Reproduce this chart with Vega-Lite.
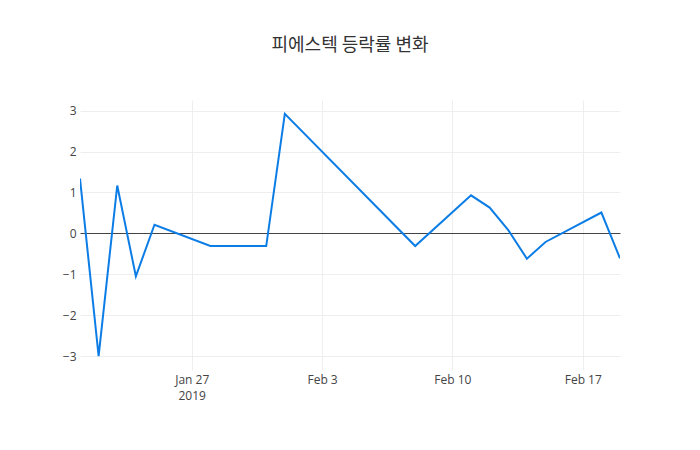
{
  "$schema": "https://vega.github.io/schema/vega-lite/v6.json",
  "description": "Daily change rate (%) of PST stock, Jan 21 - Feb 19 2019.",
  "autosize": {"type": "none"},
  "width": 540,
  "height": 270,
  "padding": {"left": 80, "right": 80, "top": 100, "bottom": 80},
  "background": "white",
  "title": {
    "text": "피에스텍 등락률 변화",
    "font": "Noto Sans CJK KR",
    "fontSize": 18,
    "fontWeight": "normal",
    "color": "#333",
    "anchor": "middle",
    "offset": 45
  },
  "data": {
    "values": [
      {"date": "2019-01-21", "rate": 1.34},
      {"date": "2019-01-22", "rate": -3.0},
      {"date": "2019-01-23", "rate": 1.17},
      {"date": "2019-01-24", "rate": -1.05},
      {"date": "2019-01-25", "rate": 0.21},
      {"date": "2019-01-28", "rate": -0.31},
      {"date": "2019-01-29", "rate": -0.31},
      {"date": "2019-01-30", "rate": -0.31},
      {"date": "2019-01-31", "rate": -0.31},
      {"date": "2019-02-01", "rate": 2.92},
      {"date": "2019-02-08", "rate": -0.31},
      {"date": "2019-02-11", "rate": 0.93},
      {"date": "2019-02-12", "rate": 0.63},
      {"date": "2019-02-13", "rate": 0.08},
      {"date": "2019-02-14", "rate": -0.62},
      {"date": "2019-02-15", "rate": -0.21},
      {"date": "2019-02-18", "rate": 0.51},
      {"date": "2019-02-19", "rate": -0.61}
    ],
    "format": {"parse": {"date": "date:'%Y-%m-%d'"}}
  },
  "mark": {"type": "line", "color": "#0d7de6", "strokeWidth": 2, "clip": true},
  "encoding": {
    "x": {
      "field": "date",
      "type": "temporal",
      "title": null,
      "scale": {
        "domain": [
          {"year": 2019, "month": 1, "date": 21},
          {"year": 2019, "month": 2, "date": 19}
        ],
        "nice": false
      },
      "axis": {
        "values": [
          {"year": 2019, "month": 1, "date": 27},
          {"year": 2019, "month": 2, "date": 3},
          {"year": 2019, "month": 2, "date": 10},
          {"year": 2019, "month": 2, "date": 17}
        ],
        "labelExpr": "timeFormat(datum.value, '%b %-d') === 'Jan 27' ? ['Jan 27', '2019'] : timeFormat(datum.value, '%b %-d')",
        "labelLineHeight": 16,
        "labelPadding": 4,
        "ticks": false,
        "domain": false,
        "grid": true
      }
    },
    "y": {
      "field": "rate",
      "type": "quantitative",
      "title": null,
      "scale": {"domain": [-3.34, 3.26], "nice": false, "zero": false},
      "axis": {
        "values": [-3, -2, -1, 0, 1, 2, 3],
        "ticks": false,
        "domain": false,
        "grid": true,
        "labelPadding": 4,
        "gridColor": {"condition": {"test": "datum.value === 0", "value": "#444"}, "value": "#eeeeee"},
        "gridWidth": 1
      }
    }
  },
  "config": {
    "view": {"stroke": null},
    "axis": {
      "labelFont": "Open Sans",
      "labelFontSize": 12,
      "labelColor": "#444",
      "gridColor": "#eeeeee"
    }
  }
}
